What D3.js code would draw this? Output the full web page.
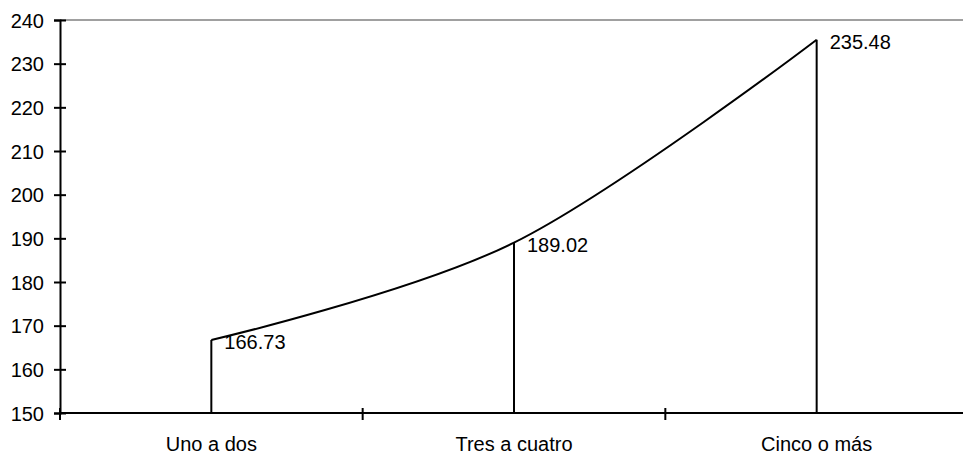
<!DOCTYPE html>
<html>
<head>
<meta charset="utf-8">
<script src="https://cdn.jsdelivr.net/npm/d3@7"></script>
<style>
  body { margin: 0; background: #fff; }
  #vis { width: 963px; height: 454px; }
  text { font-family: "Liberation Sans", Arial, sans-serif; font-size: 20px; fill: #000; }
</style>
</head>
<body>
<div id="vis"></div>
<script>
var categories = ['Uno a dos', 'Tres a cuatro', 'Cinco o más'];
var values = [166.73, 189.02, 235.48];
var y_ticks = [150, 160, 170, 180, 190, 200, 210, 220, 230, 240];

var width = 963;
var height = 454;

var margin = { top: 20, bottom: 41, left: 60, right: -5 };

var svg = d3.select('#vis')
    .append('svg')
    .attr('width', width)
    .attr('height', height);

var w = width - margin.left - margin.right;
var h = height - margin.top - margin.bottom;

var g = svg.append('g')
    .attr('transform', 'translate(' + margin.left + ',' + margin.top + ')');

var x_scale = d3.scaleBand()
    .domain(categories)
    .range([0, w]);

var y_scale = d3.scaleLinear()
    .domain([150, 240])
    .range([h, 0]);

var data = categories.map(function(c, i) { return [c, values[i]]; });

// gray frame line at top
g.append('line')
    .attr('x1', 0)
    .attr('x2', w)
    .attr('y1', y_scale(240))
    .attr('y2', y_scale(240))
    .attr('stroke', '#808080')
    .attr('stroke-width', 1.5);

// y axis with crossing ticks
var y_axis = g.append('g')
    .attr('class', 'y axis')
    .call(d3.axisLeft(y_scale).tickValues(y_ticks).tickSize(6));
y_axis.select('.domain').attr('stroke', '#000').attr('stroke-width', 2);
y_axis.selectAll('.tick line').attr('x2', 6).attr('x1', -6).attr('stroke-width', 2);
y_axis.selectAll('.tick text')
    .style('font-size', '20px')
    .style('font-family', '"Liberation Sans", Arial, sans-serif')
    .attr('fill', '#000')
    .attr('x', -16)
    .attr('dy', '0.36em');

// x axis
var bounds = categories.map(function(c) { return x_scale(c); }).concat([w]);
var x_axis = g.append('g')
    .attr('class', 'x axis')
    .attr('transform', 'translate(0,' + h + ')');
x_axis.append('line')
    .attr('x1', 0).attr('x2', w)
    .attr('stroke', '#000').attr('stroke-width', 2);
x_axis.selectAll('.xt')
    .data(bounds)
    .enter()
    .append('line')
    .attr('class', 'xt')
    .attr('x1', function(d) { return d; })
    .attr('x2', function(d) { return d; })
    .attr('y1', -5).attr('y2', 7)
    .attr('stroke', '#000').attr('stroke-width', 2);
x_axis.selectAll('.xl')
    .data(categories)
    .enter()
    .append('text')
    .attr('class', 'xl')
    .attr('x', function(d) { return x_scale(d) + x_scale.bandwidth() / 2; })
    .attr('y', 38)
    .attr('text-anchor', 'middle')
    .text(function(d) { return d; });

var cx = function(d) { return x_scale(d[0]) + x_scale.bandwidth() / 2; };

// drop lines
g.selectAll('.drop')
    .data(data)
    .enter()
    .append('line')
    .attr('class', 'drop')
    .attr('x1', cx).attr('x2', cx)
    .attr('y1', function(d) { return y_scale(d[1]); })
    .attr('y2', h)
    .attr('stroke', '#000').attr('stroke-width', 2);

// smoothed line
var line = d3.line()
    .x(cx)
    .y(function(d) { return y_scale(d[1]); })
    .curve(d3.curveCatmullRom.alpha(0));

g.append('path')
    .datum(data)
    .attr('d', line)
    .attr('fill', 'none')
    .attr('stroke', '#000')
    .attr('stroke-width', 2);

// value labels
g.selectAll('.val')
    .data(data)
    .enter()
    .append('text')
    .attr('class', 'val')
    .attr('x', function(d) { return cx(d) + 13; })
    .attr('y', function(d) { return y_scale(d[1]) + 9; })
    .text(function(d) { return d[1].toFixed(2); });
</script>
</body>
</html>
